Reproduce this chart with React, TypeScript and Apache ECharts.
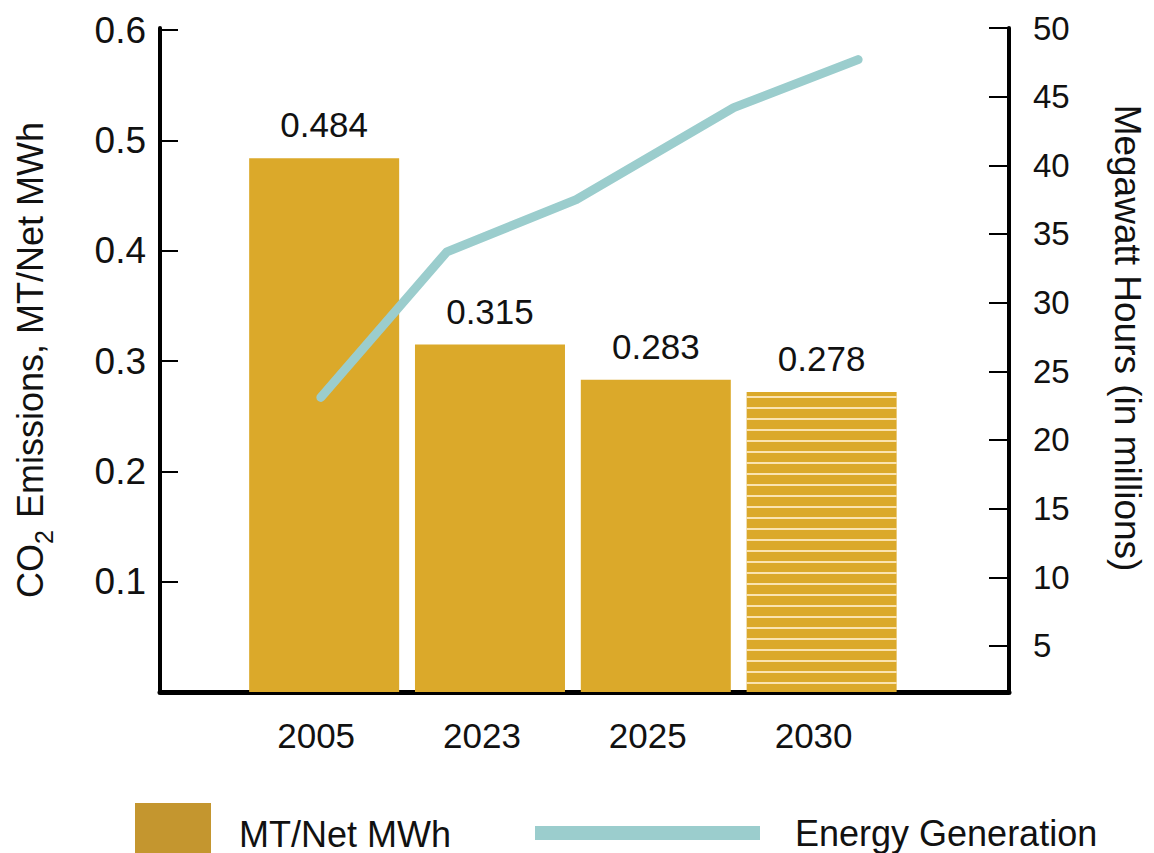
import React, { useEffect, useRef } from "react";
import * as echarts from "echarts";

const categories = ["2005", "2023", "2025", "2030"];
const barPositions = [0, 1, 2, 3];
const barHeights = [0.484, 0.315, 0.283, 0.272];
const barLabels = ["0.484", "0.315", "0.283", "0.278"];
const linePositions = [-0.02, 0.74, 1.52, 2.47, 3.22];
const lineValues = [23.1, 33.7, 37.5, 44.2, 47.7];
const leftTicks = [0.1, 0.2, 0.3, 0.4, 0.5, 0.6];
const rightTicks = [5, 10, 15, 20, 25, 30, 35, 40, 45, 50];

const FONT = "'Liberation Sans', Arial, sans-serif";

export default function App() {
  const ref = useRef<HTMLDivElement>(null);
  useEffect(() => {
    if (!ref.current) return;
    const chart = echarts.init(ref.current, null, { renderer: "svg" });
    const barColor = "#DBA92A";
    chart.setOption({
      animation: false,
      textStyle: { fontFamily: FONT, color: "#111" },
      grid: { left: 160, right: 140, top: 28, bottom: 161, containLabel: false },
      legend: [
        {
          data: [{ name: "MT/Net MWh", itemStyle: { color: "#C4962F" } }],
          left: 130,
          top: 798,
          icon: "rect",
          itemWidth: 76,
          itemHeight: 62,
          textStyle: { fontSize: 36, fontFamily: FONT, color: "#111", padding: [14, 0, 0, 23] },
          selectedMode: false,
        },
        {
          data: [{ name: "Energy Generation", itemStyle: { color: "#9BCDCD" } }],
          left: 530,
          top: 810,
          icon: "rect",
          itemWidth: 225,
          itemHeight: 14,
          textStyle: { fontSize: 36, fontFamily: FONT, color: "#111", padding: [2, 0, 0, 30] },
          selectedMode: false,
        },
      ],
      xAxis: {
        type: "value",
        min: -0.99,
        max: 4.13,
        splitLine: { show: false },
        axisLine: { show: true, onZero: false, lineStyle: { color: "#000", width: 5 } },
        axisTick: { show: false },
        axisLabel: {
          customValues: barPositions,
          formatter: (v: number) => categories[Math.round(v)] ?? "",
          fontSize: 35,
          fontFamily: FONT,
          color: "#111",
          margin: 26,
          padding: [0, 16, 0, 0],
        },
      },
      yAxis: [
        {
          type: "value",
          min: 0,
          max: 0.602,
          position: "left",
          splitLine: { show: false },
          axisLine: { show: true, onZero: false, lineStyle: { color: "#000", width: 4 } },
          axisTick: {
            show: true,
            inside: true,
            length: 18,
            customValues: leftTicks,
            lineStyle: { color: "#000", width: 2 },
          },
          axisLabel: {
            customValues: leftTicks,
            formatter: (v: number) => v.toFixed(1),
            fontSize: 37,
            fontFamily: FONT,
            color: "#111",
            margin: 14,
          },
          name: "{a|CO}{s|2}{a| Emissions, MT/Net MWh}",
          nameLocation: "middle",
          nameRotate: 90,
          nameGap: 112,
          nameTextStyle: {
            rich: {
              a: { fontSize: 36, fontFamily: FONT, color: "#111", verticalAlign: "bottom", lineHeight: 40 },
              s: { fontSize: 25, fontFamily: FONT, color: "#111", verticalAlign: "bottom", lineHeight: 40, padding: [0, 2, -8, 0] },
            },
          },
        },
        {
          type: "value",
          min: 1.65,
          max: 50,
          position: "right",
          splitLine: { show: false },
          axisLine: { show: true, onZero: false, lineStyle: { color: "#000", width: 4 } },
          axisTick: {
            show: true,
            inside: true,
            length: 20,
            customValues: rightTicks,
            lineStyle: { color: "#000", width: 2 },
          },
          axisLabel: {
            customValues: rightTicks,
            formatter: (v: number) => String(v),
            fontSize: 33,
            fontFamily: FONT,
            color: "#111",
            margin: 24,
          },
          name: "Megawatt Hours (in millions)",
          nameLocation: "middle",
          nameRotate: -90,
          nameGap: 100,
          nameTextStyle: { fontSize: 37, fontFamily: FONT, color: "#111", padding: [0, 44, 0, 0] },
        },
      ],
      series: [
        {
          name: "MT/Net MWh",
          type: "bar",
          yAxisIndex: 0,
          barWidth: 150,
          itemStyle: { color: barColor },
          label: {
            show: true,
            position: "top",
            distance: 16,
            fontSize: 35,
            fontFamily: FONT,
            color: "#111",
            formatter: (p: any) => barLabels[p.dataIndex],
          },
          data: barPositions.map((x, i) => {
            const item: any = { value: [x, barHeights[i]] };
            if (i === 3) {
              item.itemStyle = {
                color: barColor,
                decal: {
                  symbol: "rect",
                  symbolSize: 1,
                  dashArrayX: [1, 0],
                  dashArrayY: [2, 8.5],
                  rotation: 0,
                  color: "rgba(255,238,200,0.85)",
                },
              };
            }
            return item;
          }),
          z: 2,
        },
        {
          name: "Energy Generation",
          type: "line",
          yAxisIndex: 1,
          showSymbol: false,
          symbol: "none",
          lineStyle: { color: "#9BCDCD", width: 9, cap: "round", join: "round" },
          itemStyle: { color: "#9BCDCD" },
          data: linePositions.map((x, i) => [x, lineValues[i]]),
          z: 3,
        },
      ],
    });
    return () => chart.dispose();
  }, []);
  return (
    <div
      ref={ref}
      style={{ position: "absolute", left: 0, top: 0, width: 1154, height: 853, background: "#fff" }}
    />
  );
}
